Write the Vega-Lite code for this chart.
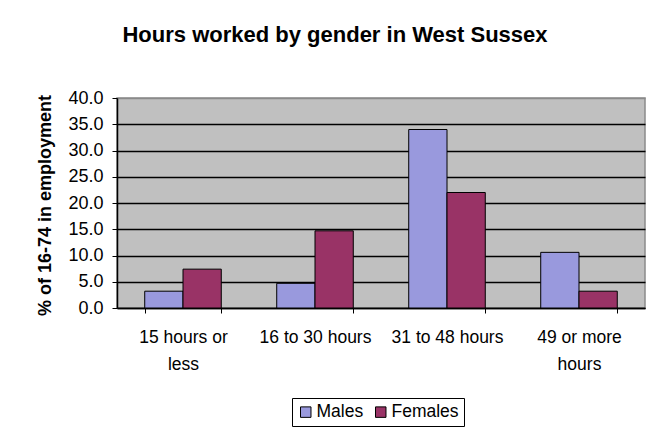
{
  "$schema": "https://vega.github.io/schema/vega-lite/v6.json",
  "width": 528,
  "height": 210,
  "autosize": {"type": "none"},
  "padding": {"left": 117, "top": 98, "right": 8, "bottom": 124},
  "background": "white",
  "title": {
    "text": "Hours worked by gender in West Sussex",
    "font": "Liberation Sans",
    "fontSize": 22,
    "fontWeight": "bold",
    "color": "black",
    "anchor": "middle",
    "dx": -46,
    "offset": 42
  },
  "data": {
    "values": [
      {"hours": "15 hours or less", "gender": "Males", "pct": 3.2},
      {"hours": "15 hours or less", "gender": "Females", "pct": 7.4},
      {"hours": "16 to 30 hours", "gender": "Males", "pct": 4.7},
      {"hours": "16 to 30 hours", "gender": "Females", "pct": 14.7},
      {"hours": "31 to 48 hours", "gender": "Males", "pct": 34.0},
      {"hours": "31 to 48 hours", "gender": "Females", "pct": 22.0},
      {"hours": "49 or more hours", "gender": "Males", "pct": 10.6},
      {"hours": "49 or more hours", "gender": "Females", "pct": 3.2}
    ]
  },
  "mark": {"type": "bar", "stroke": "black", "strokeWidth": 1},
  "encoding": {
    "x": {
      "field": "hours",
      "type": "nominal",
      "sort": null,
      "scale": {"paddingInner": 0.42, "paddingOuter": 0.21},
      "axis": {
        "title": null,
        "labelAngle": 0,
        "tickBand": "extent",
        "tickSize": 5,
        "tickColor": "black",
        "domainColor": "black",
        "domainWidth": 1.5,
        "labelFont": "Liberation Sans",
        "labelFontSize": 17.5,
        "labelColor": "black",
        "labelPadding": 15,
        "labelLineHeight": 27,
        "labelExpr": "datum.value == '15 hours or less' ? ['15 hours or', 'less'] : datum.value == '49 or more hours' ? ['49 or more', 'hours'] : datum.value"
      }
    },
    "xOffset": {"field": "gender", "type": "nominal", "scale": {"domain": ["Males", "Females"]}},
    "y": {
      "field": "pct",
      "type": "quantitative",
      "scale": {"domain": [0, 40], "nice": false},
      "axis": {
        "title": "% of 16-74 in employment",
        "titleFont": "Liberation Sans",
        "titleFontSize": 18,
        "titleFontWeight": "bold",
        "titleColor": "black",
        "titleAngle": -90,
        "titleX": -72,
        "titleY": 107,
        "titleAlign": "center",
        "titleBaseline": "middle",
        "values": [0, 5, 10, 15, 20, 25, 30, 35, 40],
        "format": ".1f",
        "labelFont": "Liberation Sans",
        "labelFontSize": 18,
        "labelColor": "black",
        "labelPadding": 9,
        "tickSize": 5,
        "tickColor": "black",
        "domainColor": "black",
        "domainWidth": 1.5,
        "grid": true,
        "gridColor": {"condition": {"test": "datum.value == 40", "value": "#8a8a8a"}, "value": "black"},
        "gridWidth": 1.5
      }
    },
    "color": {
      "field": "gender",
      "type": "nominal",
      "scale": {"domain": ["Males", "Females"], "range": ["#9999DD", "#993366"]},
      "legend": {
        "title": null,
        "orient": "none",
        "legendX": 175,
        "legendY": 300,
        "direction": "horizontal",
        "strokeColor": "black",
        "padding": 5,
        "symbolType": "square",
        "symbolSize": 110,
        "symbolStrokeColor": "black",
        "symbolStrokeWidth": 1,
        "labelFont": "Liberation Sans",
        "labelFontSize": 17.5,
        "labelColor": "black",
        "labelOffset": 2,
        "columnPadding": 8
      }
    }
  },
  "config": {
    "view": {"fill": "#C0C0C0", "stroke": "#8a8a8a", "strokeWidth": 1.5}
  }
}
